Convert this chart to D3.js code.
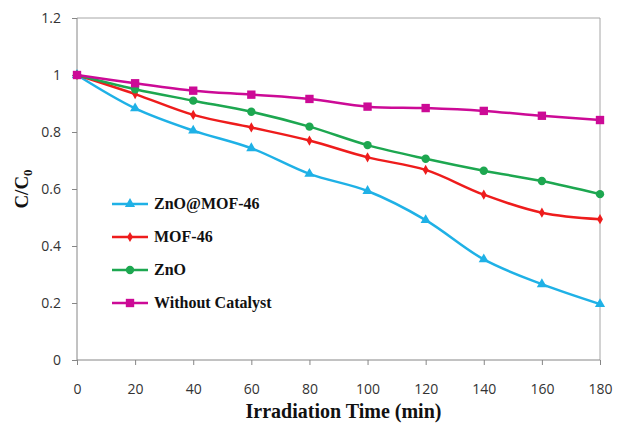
<!DOCTYPE html>
<html>
<head>
<meta charset="utf-8">
<script src="https://cdn.jsdelivr.net/npm/d3@7"></script>
<style>
  body { margin: 0; background: #fff; }
  svg { display: block; }
</style>
</head>
<body>
<svg id="chart" width="619" height="429"></svg>
<script>
// data
var times = [0, 20, 40, 60, 80, 100, 120, 140, 160, 180];
var zno_mof46 = [1, 0.883, 0.805, 0.743, 0.653, 0.593, 0.491, 0.353, 0.266, 0.196];
var mof46 = [1, 0.933, 0.86, 0.816, 0.77, 0.711, 0.667, 0.58, 0.517, 0.494];
var zno = [1, 0.95, 0.91, 0.871, 0.819, 0.754, 0.706, 0.664, 0.628, 0.582];
var without_cat = [1, 0.971, 0.945, 0.931, 0.916, 0.889, 0.884, 0.874, 0.857, 0.842];
var seriesNames = ["ZnO@MOF-46", "MOF-46", "ZnO", "Without Catalyst"];
var yTicks = [0, 0.2, 0.4, 0.6, 0.8, 1, 1.2];
var xTicks = [0, 20, 40, 60, 80, 100, 120, 140, 160, 180];

// plot box (window.top is reserved, so keep these in an object)
var plot = {left: 77, right: 600, top: 18, bottom: 360};

const svg = d3.select("#chart")

var x = d3.scaleLinear().domain([0, 180]).range([plot.left, plot.right])
var y = d3.scaleLinear().domain([0, 1.2]).range([plot.bottom, plot.top])

// plot frame (top + right)
svg.append("path")
    .attr("d", `M${plot.left},${plot.top}H${plot.right}V${plot.bottom}`)
    .attr("fill", "none")
    .attr("stroke", "#a6a6a6")
    .attr("stroke-width", 1)

// axes
const yAxis = svg.append("g")
    .attr("transform", `translate(${plot.left},0)`)
    .call(d3.axisLeft(y).tickValues(yTicks).tickSize(5).tickPadding(11)
        .tickFormat(d => String(+d.toFixed(1))))
const xAxis = svg.append("g")
    .attr("transform", `translate(0,${plot.bottom})`)
    .call(d3.axisBottom(x).tickValues(xTicks).tickSize(5).tickPadding(19))

svg.selectAll(".domain").attr("stroke", "#868686")
svg.selectAll(".tick line").attr("stroke", "#868686")
svg.selectAll(".tick text")
    .attr("font-family", "'Open Sans', 'Noto Sans', sans-serif")
    .attr("font-size", "14px")
    .attr("fill", "#333")
xAxis.select(".domain").attr("d", `M${plot.left},0H${plot.right}`)
yAxis.select(".domain").attr("d", `M0,${plot.top}V${plot.bottom}`)

// series
var series = [
    {name: seriesNames[0], values: zno_mof46, color: "#1fb1e6", shape: d3.symbolTriangle, size: 45},
    {name: seriesNames[1], values: mof46, color: "#ee1c1c", shape: d3.symbolDiamond, size: 30},
    {name: seriesNames[2], values: zno, color: "#1da750", shape: d3.symbolCircle, size: 55},
    {name: seriesNames[3], values: without_cat, color: "#cc0a96", shape: d3.symbolSquare, size: 70}
]

const line = d3.line()
    .x((d, i) => x(times[i]))
    .y(d => y(d))
    .curve(d3.curveCatmullRom.alpha(0.5))

// later series drawn on top, like the original (magenta square on top at t=0)
series.forEach(s => {
    const g = svg.append("g")
    g.append("path")
        .attr("d", line(s.values))
        .attr("fill", "none")
        .attr("stroke", s.color)
        .attr("stroke-width", 2.5)
    g.selectAll("path.mk")
        .data(s.values)
        .enter()
        .append("path")
        .attr("class", "mk")
        .attr("transform", (d, i) => `translate(${x(times[i])},${y(d)})`)
        .attr("d", d3.symbol().type(s.shape).size(s.size))
        .attr("fill", s.color)
})

// legend
const legend = svg.append("g").attr("transform", "translate(112,204)")
series.forEach((s, i) => {
    const row = legend.append("g").attr("transform", `translate(0,${i * 33})`)
    row.append("line")
        .attr("x1", 0).attr("x2", 36)
        .attr("stroke", s.color).attr("stroke-width", 2.5)
    row.append("path")
        .attr("transform", "translate(18,0)")
        .attr("d", d3.symbol().type(s.shape).size(s.size))
        .attr("fill", s.color)
    row.append("text")
        .attr("x", 42).attr("y", 5)
        .attr("font-family", "'Liberation Serif', 'Times New Roman', serif")
        .attr("font-weight", "bold")
        .attr("font-size", "16px")
        .attr("fill", "#111")
        .text(s.name)
})

// axis titles
svg.append("text")
    .attr("x", (plot.left + plot.right) / 2 + 5).attr("y", 418)
    .attr("text-anchor", "middle")
    .attr("font-family", "'Liberation Serif', 'Times New Roman', serif")
    .attr("font-weight", "bold")
    .attr("font-size", "20px")
    .attr("fill", "#111")
    .text("Irradiation Time (min)")

const yt = svg.append("text")
    .attr("transform", `translate(28,${(plot.top + plot.bottom) / 2}) rotate(-90)`)
    .attr("text-anchor", "middle")
    .attr("font-family", "'Liberation Serif', 'Times New Roman', serif")
    .attr("font-weight", "bold")
    .attr("font-size", "19px")
    .attr("fill", "#111")
yt.append("tspan").text("C/C")
yt.append("tspan").attr("font-size", "13px").attr("dy", 4).text("0")
</script>
</body>
</html>
